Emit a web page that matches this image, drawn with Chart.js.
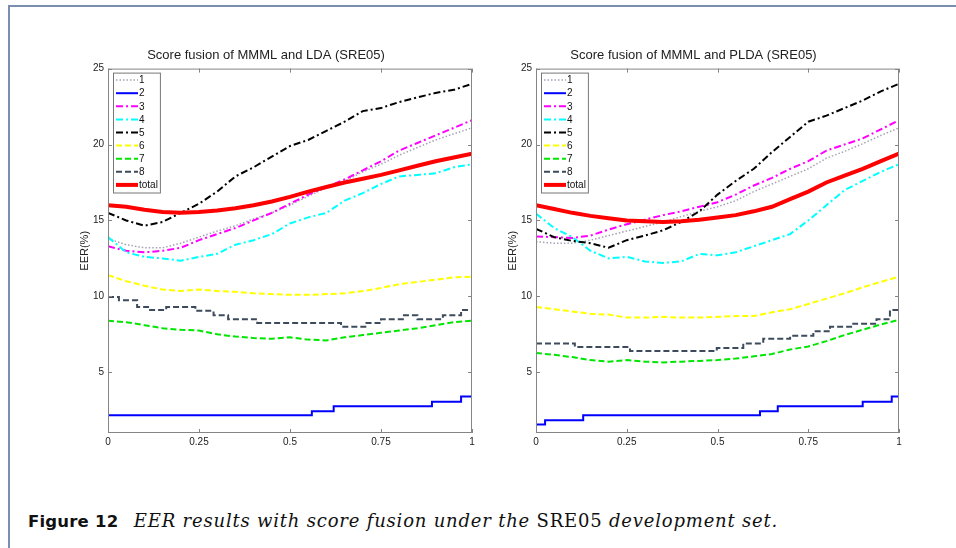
<!DOCTYPE html>
<html>
<head>
<meta charset="utf-8">
<script src="https://cdn.jsdelivr.net/npm/chart.js@4.4.1/dist/chart.umd.min.js"></script>
<style>
  body { margin: 0; background: #fff; }
  #page { position: relative; width: 956px; height: 548px; overflow: hidden; background: #fff; }
  #frame { position: absolute; left: 8px; top: 5px; width: 960px; height: 560px;
           border-left: 2px solid #7a8fae; border-top: 2px solid #7a8fae; }
  canvas { position: absolute; top: 30px; }
  #left { left: 60px; }
  #right { left: 488px; }
  #caption { position: absolute; left: 28px; top: 510px; white-space: nowrap; color: #111;
             font-family: "DejaVu Serif", serif; font-size: 18px; line-height: 22px; letter-spacing: 0.8px; }
  #caption b { font-family: "DejaVu Sans", sans-serif; font-size: 16.5px; letter-spacing: 0.2px; margin-right: 9px; }
</style>
</head>
<body>
<div id="page">
  <div id="frame"></div>
  <canvas id="left" width="430" height="430"></canvas>
  <canvas id="right" width="430" height="430"></canvas>
  <div id="caption"><b>Figure 12</b>&nbsp;<i>EER results with score fusion under the</i> SRE05 <i>development set.</i></div>
</div>
<script>
// common grid of fusion weights
const xGrid = [0, 0.05, 0.1, 0.15, 0.2, 0.25, 0.3, 0.35, 0.4, 0.45, 0.5,
               0.55, 0.6, 0.65, 0.7, 0.75, 0.8, 0.85, 0.9, 0.95, 1];
const xTicks = [0, 0.25, 0.5, 0.75, 1];
const yTicks = [5, 10, 15, 20, 25];
const names = ['1', '2', '3', '4', '5', '6', '7', '8', 'total'];

// MMML + LDA
const lda1 = [13.8, 13.4, 13.2, 13.2, 13.5, 13.9, 14.3, 14.65, 15.1, 15.5, 16.0,
              16.6, 17.15, 17.6, 18.2, 18.7, 19.3, 19.8, 20.3, 20.7, 21.1];
const lda3 = [13.3, 13.0, 12.9, 13.0, 13.2, 13.7, 14.1, 14.5, 15.0, 15.5, 16.1,
              16.7, 17.2, 17.7, 18.3, 18.9, 19.6, 20.1, 20.6, 21.1, 21.6];
const lda4 = [13.9, 12.9, 12.6, 12.5, 12.35, 12.6, 12.8, 13.4, 13.7, 14.1, 14.8,
              15.2, 15.5, 16.3, 16.8, 17.4, 17.9, 18.0, 18.1, 18.5, 18.7];
const lda5 = [15.5, 15.0, 14.65, 14.9, 15.5, 16.1, 16.9, 17.9, 18.5, 19.2, 19.9,
              20.3, 20.9, 21.5, 22.2, 22.4, 22.8, 23.1, 23.4, 23.6, 24.0];
const lda6 = [11.4, 11.0, 10.7, 10.45, 10.35, 10.45, 10.35, 10.3, 10.2, 10.15, 10.1,
              10.1, 10.15, 10.2, 10.35, 10.55, 10.8, 10.95, 11.1, 11.25, 11.3];
const lda7 = [8.4, 8.3, 8.1, 7.9, 7.8, 7.75, 7.5, 7.35, 7.25, 7.2, 7.3,
              7.15, 7.1, 7.3, 7.45, 7.6, 7.75, 7.9, 8.1, 8.3, 8.4];
const ldaTotal = [16.0, 15.9, 15.7, 15.55, 15.5, 15.55, 15.65, 15.8, 16.0, 16.25, 16.55,
                  16.9, 17.2, 17.5, 17.75, 18.0, 18.3, 18.6, 18.9, 19.15, 19.4];
const lda2X = [0, 0.56, 0.62, 0.89, 0.97, 1];
const lda2Y = [2.17, 2.43, 2.76, 3.05, 3.4, 3.4];
const lda8X = [0, 0.03, 0.08, 0.11, 0.16, 0.24, 0.29, 0.33, 0.41, 0.64, 0.71, 0.75, 0.81, 0.85, 0.92, 0.97, 1];
const lda8Y = [9.95, 9.75, 9.3, 9.1, 9.3, 9.05, 8.75, 8.5, 8.25, 8.0, 8.25, 8.5, 8.75, 8.5, 8.75, 9.1, 9.1];

// MMML + PLDA
const plda1 = [13.6, 13.5, 13.5, 13.7, 14.0, 14.3, 14.6, 14.9, 15.25, 15.6, 15.9,
               16.3, 16.9, 17.4, 17.9, 18.4, 19.1, 19.55, 20.05, 20.6, 21.1];
const plda3 = [13.95, 13.9, 13.85, 14.0, 14.4, 14.75, 15.05, 15.35, 15.6, 15.9, 16.2,
               16.7, 17.3, 17.8, 18.4, 18.9, 19.6, 20.0, 20.4, 21.0, 21.6];
const plda4 = [15.45, 14.5, 13.9, 13.0, 12.5, 12.6, 12.3, 12.2, 12.3, 12.8, 12.7,
               12.9, 13.3, 13.7, 14.1, 15.0, 16.0, 17.0, 17.6, 18.2, 18.7];
const plda5 = [14.45, 13.9, 13.65, 13.5, 13.2, 13.7, 14.0, 14.35, 14.9, 15.6, 16.7,
               17.6, 18.4, 19.5, 20.5, 21.5, 21.9, 22.4, 22.9, 23.5, 24.0];
const plda6 = [9.3, 9.15, 9.0, 8.85, 8.8, 8.6, 8.6, 8.65, 8.6, 8.6, 8.65,
               8.7, 8.7, 8.95, 9.15, 9.5, 9.85, 10.2, 10.6, 10.95, 11.3];
const plda7 = [6.27, 6.15, 6.0, 5.8, 5.7, 5.8, 5.7, 5.65, 5.7, 5.75, 5.8,
               5.9, 6.05, 6.2, 6.5, 6.7, 7.05, 7.45, 7.8, 8.15, 8.45];
const pldaTotal = [16.0, 15.75, 15.5, 15.3, 15.15, 15.0, 14.95, 14.9, 14.95, 15.05, 15.2,
                   15.35, 15.6, 15.9, 16.4, 16.9, 17.5, 17.95, 18.4, 18.9, 19.4];
const plda2X = [0, 0.025, 0.13, 0.617, 0.666, 0.9, 0.98, 1];
const plda2Y = [1.56, 1.84, 2.17, 2.43, 2.76, 3.05, 3.4, 3.4];
const plda8X = [0, 0.107, 0.259, 0.498, 0.571, 0.626, 0.70, 0.764, 0.81, 0.874, 0.938, 0.975, 1];
const plda8Y = [6.9, 6.66, 6.4, 6.6, 6.9, 7.2, 7.4, 7.7, 8.0, 8.2, 8.5, 9.1, 9.1];

const colors = ['#a3a3b3', '#0000ff', '#ff00ff', '#00ffff', '#000000', '#ffff00', '#00e600', '#3d4b5c', '#ff0000'];
const dashes = [[1.5, 2], [], [7, 3, 2, 3], [7, 3, 2, 3], [7, 3, 2, 3], [6, 3], [6, 3], [6, 3], []];
const widths = [1.5, 2, 2, 2, 2, 2, 2, 2, 4];

function pts(xs, ys) {
  return xs.map((x, i) => ({x: x, y: ys[i]}));
}

// box, inward ticks and a matlab-like legend
const axesBox = {
  id: 'axesBox',
  afterDatasetsDraw(chart) {
    const {ctx, chartArea: a, scales: {x, y}} = chart;
    ctx.save();
    ctx.strokeStyle = '#858585';
    ctx.lineWidth = 1;
    ctx.strokeRect(a.left + 0.5, a.top + 0.5, a.width - 1, a.height - 1);
    ctx.beginPath();
    xTicks.forEach(v => {
      const px = Math.round(x.getPixelForValue(v)) + 0.5;
      ctx.moveTo(px, a.bottom); ctx.lineTo(px, a.bottom - 4);
      ctx.moveTo(px, a.top); ctx.lineTo(px, a.top + 4);
    });
    yTicks.forEach(v => {
      const py = Math.round(y.getPixelForValue(v)) + 0.5;
      ctx.moveTo(a.left, py); ctx.lineTo(a.left + 4, py);
      ctx.moveTo(a.right, py); ctx.lineTo(a.right - 4, py);
    });
    ctx.stroke();

    const sets = chart.data.datasets;
    ctx.font = '10px "Liberation Sans"';
    const tw = Math.max(...sets.map(ds => ctx.measureText(ds.label).width));
    const bx = a.left + 5, by = a.top + 4, bw = 28 + tw, bh = sets.length * 13.1 + 2;
    ctx.fillStyle = '#fff';
    ctx.fillRect(bx, by, bw, bh);
    ctx.strokeStyle = '#777';
    ctx.strokeRect(bx + 0.5, by + 0.5, bw, bh);
    sets.forEach((ds, i) => {
      const cy = a.top + 11.5 + i * 13.1;
      ctx.setLineDash(ds.borderDash);
      ctx.strokeStyle = ds.borderColor;
      ctx.lineWidth = ds.borderWidth;
      ctx.beginPath();
      ctx.moveTo(bx + 3, cy);
      ctx.lineTo(bx + 25, cy);
      ctx.stroke();
      ctx.setLineDash([]);
      ctx.fillStyle = '#111';
      ctx.textBaseline = 'middle';
      ctx.fillText(ds.label, bx + 26, cy + 0.5);
    });
    ctx.restore();
  }
};

function makeChart(id, title, series) {
  const datasets = series.map((d, i) => ({
    label: names[i],
    data: d,
    borderColor: colors[i],
    borderDash: dashes[i],
    borderWidth: widths[i],
    pointRadius: 0,
    fill: false,
    tension: 0,
    // hold each value until the next x
    stepped: (i === 1 || i === 7) ? 'before' : false,
    order: 9 - i
  }));

  return new Chart(document.getElementById(id), {
    type: 'line',
    data: {datasets: datasets},
    plugins: [axesBox],
    options: {
      responsive: false,
      animation: false,
      layout: {padding: {top: 17.2, right: id === 'left' ? 18 : 19, bottom: 0, left: 0}},
      plugins: {
        legend: {display: false},
        tooltip: {enabled: false},
        title: {
          display: true,
          text: title,
          color: '#222',
          font: {family: 'Liberation Sans', size: 13, weight: 'normal'},
          padding: {top: 0, bottom: 5.8}
        }
      },
      scales: {
        x: {
          type: 'linear',
          min: 0,
          max: 1,
          afterBuildTicks: s => { s.ticks = xTicks.map(v => ({value: v})); },
          afterFit: s => { s.height = 27; },
          grid: {display: false, drawTicks: false},
          border: {display: false},
          ticks: {color: '#222', padding: 3, maxRotation: 0,
                  font: {family: 'Liberation Sans', size: 10},
                  callback: v => String(v)}
        },
        y: {
          min: 1,
          max: 25,
          afterBuildTicks: s => { s.ticks = yTicks.map(v => ({value: v})); },
          afterFit: s => { s.width = 48; },
          grid: {display: false, drawTicks: false},
          border: {display: false},
          ticks: {color: '#222', padding: 4,
                  font: {family: 'Liberation Sans', size: 10}},
          title: {display: true, text: 'EER(%)', color: '#222',
                  font: {family: 'Liberation Sans', size: 11},
                  padding: {top: 18.4, bottom: 0}}
        }
      }
    }
  });
}

makeChart('left', 'Score fusion of MMML and LDA (SRE05)', [
  pts(xGrid, lda1), pts(lda2X, lda2Y), pts(xGrid, lda3), pts(xGrid, lda4), pts(xGrid, lda5),
  pts(xGrid, lda6), pts(xGrid, lda7), pts(lda8X, lda8Y), pts(xGrid, ldaTotal)
]);

makeChart('right', 'Score fusion of MMML and PLDA (SRE05)', [
  pts(xGrid, plda1), pts(plda2X, plda2Y), pts(xGrid, plda3), pts(xGrid, plda4), pts(xGrid, plda5),
  pts(xGrid, plda6), pts(xGrid, plda7), pts(plda8X, plda8Y), pts(xGrid, pldaTotal)
]);
</script>
</body>
</html>
